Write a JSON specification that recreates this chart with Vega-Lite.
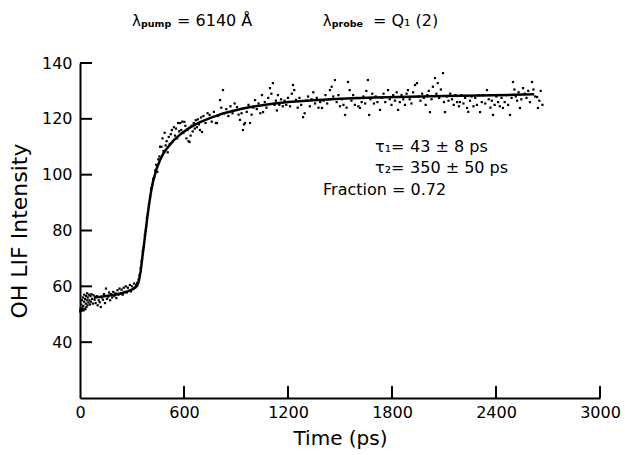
{
"$schema": "https://vega.github.io/schema/vega-lite/v6.json",
"width": 520, "height": 335, "autosize": "none",
"padding": {"left": 80, "top": 63, "right": 25, "bottom": 57},
"config": {
 "view": {"stroke": null},
 "axis": {"domainColor": "black", "domainWidth": 2, "ticks": false, "grid": false,
  "labelFont": "DejaVu Sans", "labelFontSize": 16, "labelColor": "black", "labelFlush": false,
  "titleFont": "DejaVu Sans", "titleFontSize": 20, "titleFontWeight": "normal", "titleColor": "black"},
 "text": {"font": "DejaVu Sans", "fill": "black"}
},
"datasets": {
 "scatter": [
  {"t":1,"v":51.0},{"t":3,"v":52.0},{"t":5,"v":51.5},{"t":7,"v":53.5},{"t":9,"v":51.2},{"t":11,"v":55.0},{"t":13,"v":52.3},{"t":15,"v":51.6},{"t":17,"v":56.0},{"t":19,"v":53.0},{"t":21,"v":51.4},{"t":23,"v":54.5},{"t":25,"v":57.0},{"t":27,"v":52.0},{"t":29,"v":55.5},{"t":31,"v":51.8},{"t":33,"v":53.8},{"t":35,"v":56.5},{"t":37,"v":52.6},{"t":39,"v":55.0},{"t":41,"v":57.5},{"t":43,"v":53.2},{"t":45,"v":56.0},{"t":48,"v":54.2},{"t":51,"v":57.0},{"t":54,"v":55.0},{"t":57,"v":53.5},{"t":60,"v":56.5},{"t":63,"v":54.5},{"t":66,"v":57.2},{"t":70,"v":55.5},{"t":74,"v":53.8},{"t":78,"v":56.8},
  {"t":84,"v":55.2},{"t":90,"v":54.0},{"t":96,"v":56.5},{"t":102,"v":53.2},{"t":108,"v":55.0},{"t":114,"v":54.3},{"t":120,"v":52.6},{"t":126,"v":56.0},{"t":132,"v":55.2},{"t":138,"v":57.2},{"t":144,"v":54.0},{"t":150,"v":59.2},{"t":156,"v":55.5},{"t":162,"v":56.3},{"t":168,"v":57.8},{"t":174,"v":55.0},{"t":180,"v":57.2},{"t":186,"v":56.0},{"t":192,"v":58.0},{"t":198,"v":56.6},{"t":204,"v":57.5},{"t":210,"v":55.8},{"t":216,"v":58.6},{"t":222,"v":57.0},{"t":228,"v":59.2},{"t":234,"v":57.4},{"t":240,"v":58.8},{"t":246,"v":57.0},{"t":252,"v":59.5},{"t":258,"v":58.0},{"t":264,"v":60.0},{"t":270,"v":57.8},{"t":276,"v":59.5},{"t":282,"v":58.4},{"t":288,"v":60.5},{"t":294,"v":58.2},{"t":300,"v":60.0},{"t":306,"v":59.0},{"t":312,"v":61.0},{"t":318,"v":59.5},{"t":324,"v":60.5},{"t":330,"v":61.2},
  {"t":338,"v":62.5},{"t":344,"v":64.0},{"t":350,"v":66.5},{"t":356,"v":69.0},{"t":362,"v":72.5},{"t":368,"v":74.0},{"t":374,"v":78.5},{"t":380,"v":80.0},{"t":386,"v":84.5},{"t":392,"v":86.0},{"t":398,"v":89.5},{"t":404,"v":92.0},{"t":410,"v":95.0},{"t":416,"v":96.0},{"t":422,"v":98.5},{"t":428,"v":99.0},
  {"t":434,"v":101.5},{"t":440,"v":103.5},{"t":446,"v":101.0},{"t":452,"v":105.5},{"t":458,"v":106.5},{"t":462,"v":110.0},{"t":470,"v":110.0},{"t":476,"v":113.0},{"t":482,"v":108.5},{"t":488,"v":115.0},{"t":494,"v":110.5},{"t":500,"v":112.0},{"t":506,"v":108.0},{"t":512,"v":113.5},{"t":518,"v":111.0},{"t":524,"v":114.5},{"t":530,"v":116.0},{"t":536,"v":112.0},{"t":542,"v":117.0},{"t":548,"v":114.0},{"t":554,"v":116.5},{"t":560,"v":113.0},{"t":566,"v":118.5},{"t":572,"v":115.5},{"t":578,"v":118.5},{"t":584,"v":116.0},{"t":590,"v":119.0},{"t":596,"v":115.0},{"t":602,"v":118.9},{"t":608,"v":117.5},{"t":614,"v":113.0},{"t":620,"v":116.0},{"t":626,"v":112.0},{"t":632,"v":111.7},{"t":638,"v":114.0},{"t":644,"v":117.5},{"t":650,"v":115.5},{"t":656,"v":118.5},{"t":662,"v":116.5},{"t":668,"v":119.5},{"t":674,"v":117.0},{"t":680,"v":119.8},{"t":686,"v":118.0},{"t":692,"v":116.0},{"t":698,"v":120.5},{"t":704,"v":115.3},
  {"t":712,"v":121.0},{"t":724,"v":118.5},{"t":736,"v":122.0},{"t":748,"v":121.4},{"t":760,"v":119.0},{"t":772,"v":122.5},{"t":784,"v":118.5},{"t":790,"v":118.5},{"t":796,"v":121.0},{"t":808,"v":126.7},{"t":815,"v":124.0},{"t":825,"v":130.3},{"t":832,"v":122.0},{"t":844,"v":123.5},{"t":856,"v":121.0},{"t":868,"v":124.5},{"t":880,"v":122.0},{"t":892,"v":125.5},{"t":906,"v":124.2},{"t":915,"v":121.5},{"t":923,"v":119.6},{"t":932,"v":122.0},{"t":940,"v":116.0},{"t":946,"v":118.0},{"t":952,"v":118.5},{"t":962,"v":122.5},{"t":972,"v":125.0},{"t":981,"v":118.5},{"t":990,"v":121.5},{"t":1000,"v":124.0},{"t":1010,"v":126.7},{"t":1020,"v":123.5},{"t":1030,"v":125.5},{"t":1040,"v":122.0},{"t":1050,"v":128.5},{"t":1056,"v":122.4},{"t":1066,"v":126.0},{"t":1076,"v":124.0},{"t":1086,"v":127.5},{"t":1096,"v":131.0},{"t":1104,"v":129.0},{"t":1113,"v":132.8},{"t":1122,"v":125.0},{"t":1130,"v":126.5},{"t":1136,"v":123.0},{"t":1142,"v":128.5},{"t":1150,"v":125.0},{"t":1160,"v":127.0},{"t":1170,"v":124.5},{"t":1180,"v":126.5},{"t":1190,"v":125.0},{"t":1200,"v":127.5},
  {"t":1212,"v":124.5},{"t":1222,"v":129.0},{"t":1229,"v":132.1},{"t":1236,"v":130.3},{"t":1246,"v":126.8},{"t":1256,"v":124.0},{"t":1266,"v":127.5},{"t":1276,"v":125.0},{"t":1287,"v":120.6},{"t":1296,"v":122.0},{"t":1306,"v":126.5},{"t":1316,"v":128.0},{"t":1326,"v":124.5},{"t":1336,"v":127.0},{"t":1346,"v":129.5},{"t":1356,"v":125.5},{"t":1366,"v":127.5},{"t":1376,"v":124.0},{"t":1386,"v":126.0},{"t":1396,"v":123.9},{"t":1406,"v":126.5},{"t":1416,"v":128.5},{"t":1426,"v":125.5},{"t":1436,"v":127.0},{"t":1442,"v":130.3},{"t":1452,"v":131.5},{"t":1461,"v":128.0},{"t":1471,"v":133.9},{"t":1481,"v":126.0},{"t":1491,"v":128.5},{"t":1500,"v":124.5},{"t":1510,"v":127.0},{"t":1520,"v":125.0},{"t":1529,"v":121.4},{"t":1538,"v":124.0},{"t":1546,"v":133.2},{"t":1556,"v":130.3},{"t":1566,"v":126.5},{"t":1576,"v":128.5},{"t":1586,"v":125.0},{"t":1596,"v":127.5},{"t":1606,"v":124.5},{"t":1615,"v":123.9},{"t":1625,"v":126.0},{"t":1635,"v":128.0},{"t":1645,"v":125.5},{"t":1652,"v":130.0},{"t":1661,"v":133.9},{"t":1668,"v":121.4},{"t":1676,"v":127.0},{"t":1686,"v":129.0},{"t":1696,"v":125.5},{"t":1706,"v":128.0},{"t":1716,"v":126.0},{"t":1731,"v":123.2},{"t":1741,"v":127.5},{"t":1751,"v":129.0},{"t":1761,"v":126.0},{"t":1777,"v":130.3},{"t":1787,"v":127.0},{"t":1797,"v":125.0},{"t":1807,"v":128.5},{"t":1817,"v":126.5},{"t":1827,"v":129.5},{"t":1835,"v":123.2},{"t":1845,"v":126.0},{"t":1855,"v":128.5},{"t":1865,"v":127.0},{"t":1875,"v":125.0},{"t":1884,"v":129.0},{"t":1892,"v":130.3},{"t":1902,"v":127.0},{"t":1912,"v":125.5},{"t":1922,"v":129.5},{"t":1933,"v":132.1},{"t":1944,"v":132.8},{"t":1954,"v":128.0},{"t":1964,"v":126.5},{"t":1974,"v":129.0},{"t":1984,"v":127.5},{"t":1994,"v":125.0},{"t":2004,"v":128.5},{"t":2012,"v":130.0},{"t":2019,"v":122.4},{"t":2028,"v":127.0},{"t":2036,"v":131.5},{"t":2048,"v":134.6},{"t":2056,"v":129.0},{"t":2064,"v":132.8},{"t":2072,"v":127.5},{"t":2082,"v":130.5},{"t":2094,"v":136.4},{"t":2100,"v":126.0},{"t":2106,"v":122.4},{"t":2116,"v":128.0},{"t":2126,"v":126.5},{"t":2136,"v":129.0},{"t":2146,"v":127.0},{"t":2156,"v":125.0},{"t":2166,"v":128.5},{"t":2176,"v":126.0},{"t":2186,"v":124.5},{"t":2192,"v":126.0},{"t":2202,"v":128.5},{"t":2212,"v":125.5},{"t":2222,"v":127.5},{"t":2233,"v":123.9},{"t":2240,"v":122.5},{"t":2250,"v":126.5},{"t":2260,"v":128.0},{"t":2270,"v":124.5},{"t":2280,"v":127.5},{"t":2290,"v":125.0},{"t":2300,"v":128.5},{"t":2308,"v":122.4},{"t":2318,"v":126.0},{"t":2328,"v":128.5},{"t":2338,"v":125.5},{"t":2348,"v":130.3},{"t":2358,"v":127.0},{"t":2368,"v":124.0},{"t":2376,"v":126.5},{"t":2383,"v":121.4},{"t":2392,"v":125.0},{"t":2402,"v":128.0},{"t":2412,"v":126.0},{"t":2422,"v":124.5},{"t":2432,"v":127.5},{"t":2440,"v":123.9},{"t":2450,"v":126.0},{"t":2460,"v":128.5},{"t":2470,"v":125.0},{"t":2481,"v":121.4},{"t":2490,"v":127.5},{"t":2498,"v":133.2},{"t":2506,"v":130.5},{"t":2514,"v":128.0},{"t":2522,"v":126.5},{"t":2530,"v":129.5},{"t":2538,"v":123.9},{"t":2546,"v":127.0},{"t":2556,"v":131.0},{"t":2566,"v":129.0},{"t":2576,"v":127.5},{"t":2586,"v":130.0},{"t":2596,"v":126.0},{"t":2608,"v":133.2},{"t":2616,"v":130.5},{"t":2626,"v":128.0},{"t":2637,"v":127.8},{"t":2642,"v":123.9},{"t":2650,"v":126.5},{"t":2658,"v":130.0},{"t":2668,"v":125.0}
 ],
 "fit": [
  {"t":80,"v":56.0},{"t":120,"v":56.3},{"t":160,"v":56.6},{"t":200,"v":57.0},{"t":240,"v":57.5},{"t":280,"v":58.3},{"t":310,"v":59.2},{"t":330,"v":60.2},{"t":340,"v":62.0},{"t":350,"v":65.5},{"t":360,"v":70.5},{"t":370,"v":75.5},{"t":380,"v":80.5},{"t":390,"v":85.5},{"t":400,"v":90.0},{"t":410,"v":94.0},{"t":420,"v":97.2},{"t":440,"v":101.8},{"t":460,"v":105.0},{"t":480,"v":107.5},{"t":500,"v":109.3},{"t":540,"v":112.3},{"t":580,"v":114.5},{"t":620,"v":116.3},{"t":660,"v":117.8},{"t":700,"v":119.0},{"t":760,"v":120.5},{"t":820,"v":121.8},{"t":880,"v":122.8},{"t":940,"v":123.7},{"t":1000,"v":124.4},{"t":1100,"v":125.3},{"t":1200,"v":126.0},{"t":1350,"v":126.7},{"t":1500,"v":127.2},{"t":1700,"v":127.6},{"t":1900,"v":127.9},{"t":2100,"v":128.2},{"t":2300,"v":128.4},{"t":2500,"v":128.6},{"t":2620,"v":128.8}
 ],
 "xticks": [{"t":600},{"t":1200},{"t":1800},{"t":2400},{"t":3000}],
 "yticks": [{"v":40},{"v":60},{"v":80},{"v":100},{"v":120},{"v":140}]
},
"layer": [
 {"data": {"name": "xticks"},
  "mark": {"type": "rule", "color": "black", "strokeWidth": 2},
  "encoding": {
   "x": {"field": "t", "type": "quantitative", "title": "Time (ps)", "scale": {"domain": [0, 3000], "nice": false},
    "axis": {"values": [0, 600, 1200, 1800, 2400, 3000], "format": "d", "labelPadding": 6, "titlePadding": 8}},
   "y": {"datum": 20, "type": "quantitative", "title": "OH LIF Intensity", "scale": {"domain": [20, 140], "nice": false, "zero": false},
    "axis": {"values": [40, 60, 80, 100, 120, 140], "format": "d", "labelPadding": 8, "titlePadding": 10, "titleFontSize": 22}},
   "y2": {"datum": 24.3}}},
 {"data": {"name": "yticks"},
  "mark": {"type": "rule", "color": "black", "strokeWidth": 2},
  "encoding": {"y": {"field": "v", "type": "quantitative", "title": "OH LIF Intensity"}, "x": {"datum": 0, "type": "quantitative", "title": "Time (ps)"}, "x2": {"datum": 69}}},
 {"data": {"name": "scatter"},
  "mark": {"type": "point", "shape": "square", "filled": true, "size": 5, "color": "black", "opacity": 1},
  "encoding": {
   "x": {"field": "t", "type": "quantitative", "title": "Time (ps)"},
   "y": {"field": "v", "type": "quantitative", "title": "OH LIF Intensity"}
  }},
 {"data": {"name": "fit"},
  "mark": {"type": "line", "color": "black", "strokeWidth": 2.5},
  "encoding": {
   "x": {"field": "t", "type": "quantitative", "title": "Time (ps)"},
   "y": {"field": "v", "type": "quantitative", "title": "OH LIF Intensity"}
  }},
 {"data": {"values": [{"s": "λ"}]}, "mark": {"type": "text", "align": "left", "baseline": "alphabetic", "fontSize": 15},
  "encoding": {"x": {"datum": 300, "type": "quantitative"}, "y": {"datum": 153.3, "type": "quantitative"}, "text": {"field": "s"}}},
 {"data": {"values": [{"s": "pump"}]}, "mark": {"type": "text", "align": "left", "baseline": "alphabetic", "fontSize": 9.5, "fontWeight": "bold"},
  "encoding": {"x": {"datum": 352, "type": "quantitative"}, "y": {"datum": 153.0, "type": "quantitative"}, "text": {"field": "s"}}},
 {"data": {"values": [{"s": "= 6140 Å"}]}, "mark": {"type": "text", "align": "left", "baseline": "alphabetic", "fontSize": 16},
  "encoding": {"x": {"datum": 560, "type": "quantitative"}, "y": {"datum": 153.3, "type": "quantitative"}, "text": {"field": "s"}}},
 {"data": {"values": [{"s": "λ"}]}, "mark": {"type": "text", "align": "left", "baseline": "alphabetic", "fontSize": 15},
  "encoding": {"x": {"datum": 1400, "type": "quantitative"}, "y": {"datum": 153.3, "type": "quantitative"}, "text": {"field": "s"}}},
 {"data": {"values": [{"s": "probe"}]}, "mark": {"type": "text", "align": "left", "baseline": "alphabetic", "fontSize": 9.5, "fontWeight": "bold"},
  "encoding": {"x": {"datum": 1452, "type": "quantitative"}, "y": {"datum": 153.0, "type": "quantitative"}, "text": {"field": "s"}}},
 {"data": {"values": [{"s": "= Q₁ (2)"}]}, "mark": {"type": "text", "align": "left", "baseline": "alphabetic", "fontSize": 16},
  "encoding": {"x": {"datum": 1690, "type": "quantitative"}, "y": {"datum": 153.3, "type": "quantitative"}, "text": {"field": "s"}}},
 {"data": {"values": [{"s": "τ₁="}]}, "mark": {"type": "text", "align": "left", "baseline": "alphabetic", "fontSize": 16},
  "encoding": {"x": {"datum": 1702, "type": "quantitative"}, "y": {"datum": 108.1, "type": "quantitative"}, "text": {"field": "s"}}},
 {"data": {"values": [{"s": "43 ± 8 ps"}]}, "mark": {"type": "text", "align": "left", "baseline": "alphabetic", "fontSize": 16},
  "encoding": {"x": {"datum": 1904, "type": "quantitative"}, "y": {"datum": 108.1, "type": "quantitative"}, "text": {"field": "s"}}},
 {"data": {"values": [{"s": "τ₂="}]}, "mark": {"type": "text", "align": "left", "baseline": "alphabetic", "fontSize": 16},
  "encoding": {"x": {"datum": 1702, "type": "quantitative"}, "y": {"datum": 100.6, "type": "quantitative"}, "text": {"field": "s"}}},
 {"data": {"values": [{"s": "350 ± 50 ps"}]}, "mark": {"type": "text", "align": "left", "baseline": "alphabetic", "fontSize": 16},
  "encoding": {"x": {"datum": 1904, "type": "quantitative"}, "y": {"datum": 100.6, "type": "quantitative"}, "text": {"field": "s"}}},
 {"data": {"values": [{"s": "Fraction = 0.72"}]}, "mark": {"type": "text", "align": "left", "baseline": "alphabetic", "fontSize": 16},
  "encoding": {"x": {"datum": 1402, "type": "quantitative"}, "y": {"datum": 92.7, "type": "quantitative"}, "text": {"field": "s"}}}
]
}
